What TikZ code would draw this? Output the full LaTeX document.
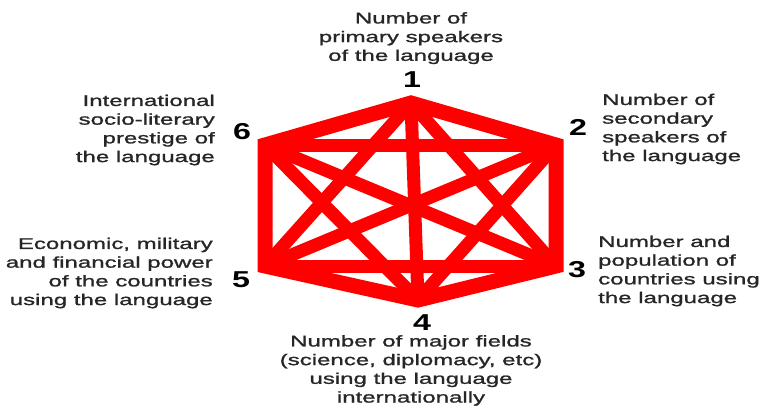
\documentclass[tikz,border=0pt]{standalone}
\usepackage{fontspec}
\setmainfont{Liberation Sans}
\newfontfamily\critfont[FakeStretch=1.55,FakeBold=1.3]{Liberation Sans}
\newfontfamily\numfont[FakeStretch=1.4]{Liberation Sans}

\tikzset{
  crit/.style={font=\critfont\fontsize{15.5}{18.7}\selectfont, text=black!85, inner sep=0pt},
  num/.style={font=\numfont\bfseries\fontsize{23}{23}\selectfont, inner sep=0pt},
  link/.style={red, line width=13pt}
}

\begin{document}
\begin{tikzpicture}[x=1pt, y=-1pt]
  \useasboundingbox (0,0) rectangle (760,407);
  % corners of the hexagon
  \coordinate (v1) at (411,103);
  \coordinate (v2) at (556,145);
  \coordinate (v3) at (556,266);
  \coordinate (v4) at (418,300);
  \coordinate (v5) at (265,266);
  \coordinate (v6) at (265,145);
  \draw[link, line width=15pt, line join=miter] (v1) -- (v2) -- (v3) -- (v4) -- (v5) -- (v6) -- cycle;
  \foreach \a/\b in {1/3, 1/4, 1/5, 2/4, 2/5, 2/6, 3/5, 3/6, 4/6}
    \draw[link] (v\a) -- (v\b);
  % numbers
  \node[num] (n1) at (412,80) {1};
  \node[num] (n2) at (578,127) {2};
  \node[num] (n3) at (577,270) {3};
  \node[num] (n4) at (422,323) {4};
  \node[num] (n5) at (241,280) {5};
  \node[num] (n6) at (242,132) {6};
  % texts
  \node[crit, align=center, anchor=north] (t1) at (411,12)
    {Number of\\primary speakers\\of the language};
  \node[crit, align=left, anchor=west] (t2) at (602,129)
    {Number of\\secondary\\speakers of\\the language};
  \node[crit, align=left, anchor=west] (t3) at (598,271)
    {Number and\\population of\\countries using\\the language};
  \node[crit, align=center, anchor=north] (t4) at (411,335)
    {Number of major fields\\(science, diplomacy, etc)\\using the language\\internationally};
  \node[crit, align=right, anchor=east] (t5) at (213,273)
    {Economic, military\\and financial power\\of the countries\\using the language};
  \node[crit, align=right, anchor=east] (t6) at (215,130)
    {International\\socio-literary\\prestige of\\the language};
\end{tikzpicture}
\end{document}
